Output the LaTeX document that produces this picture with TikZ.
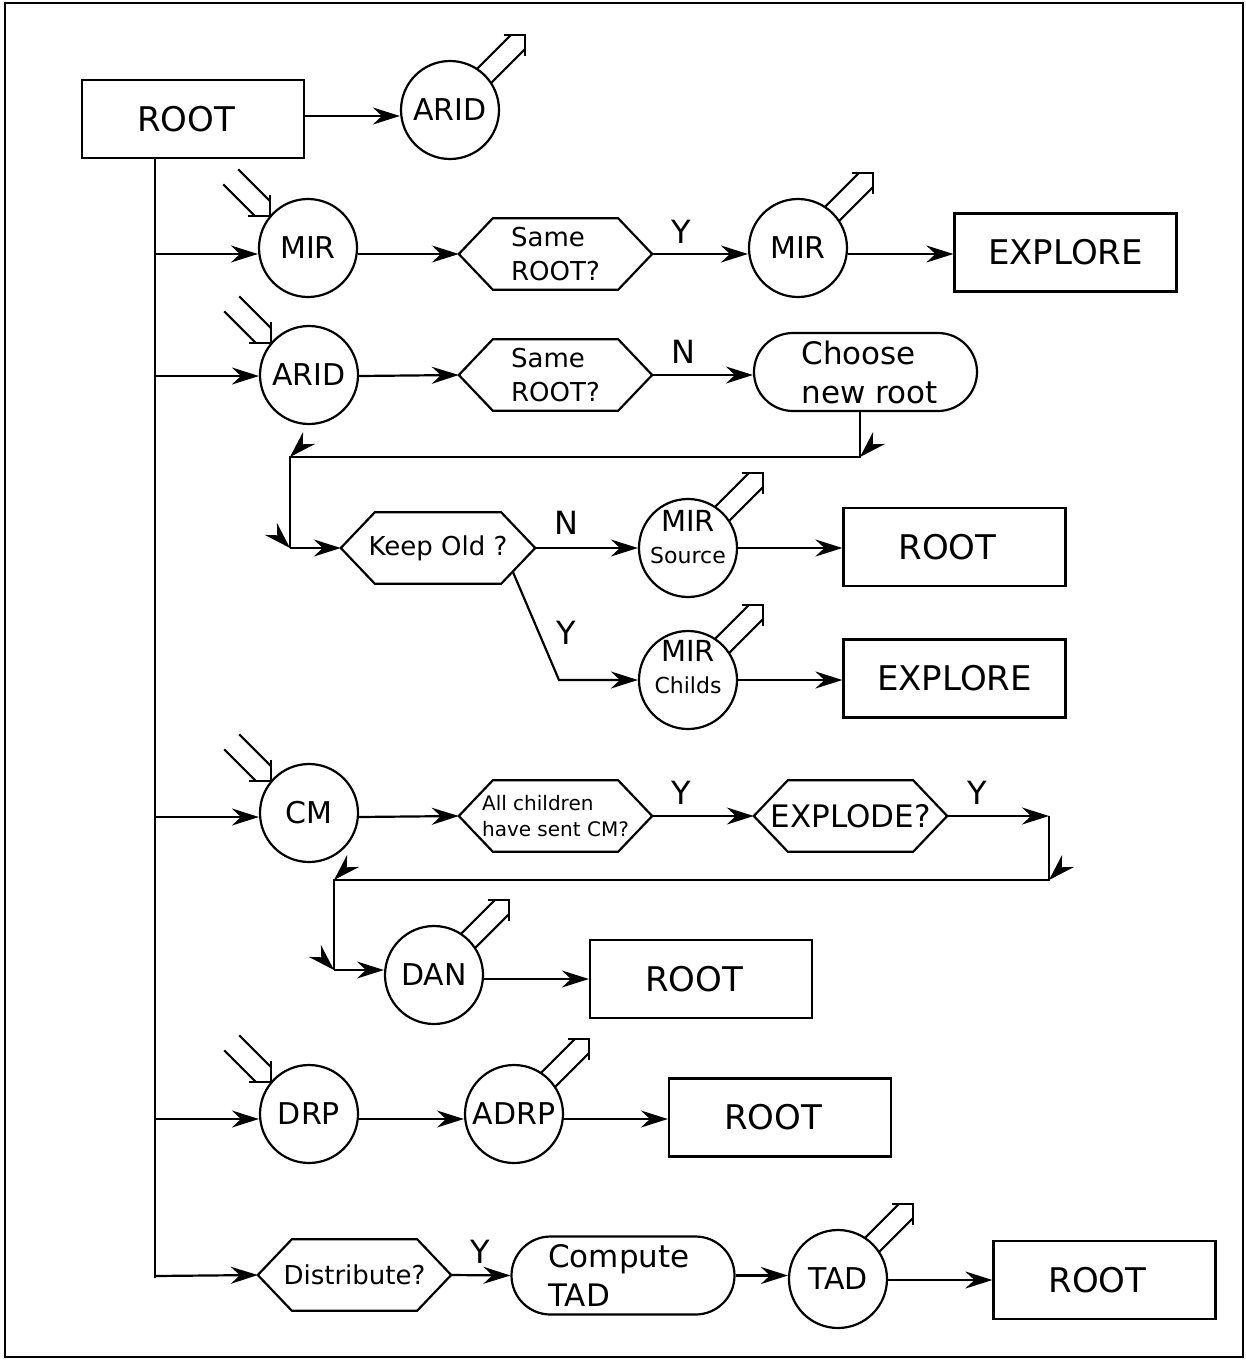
\documentclass[tikz,border=0pt]{standalone}
\usepackage{fontspec}
\setmainfont{DejaVu Sans}
\usetikzlibrary{arrows.meta,shapes.misc,calc}

% hexagonal decision outline around a (plain) node
\newcommand\hexoutline[1]{%
  \draw[ln,line join=miter] (#1.west) -- ([xshift=34pt]#1.north west) -- ([xshift=-34pt]#1.north east)
    -- (#1.east) -- ([xshift=-34pt]#1.south east) -- ([xshift=34pt]#1.south west) -- cycle;}
% hollow outgoing arrow leaving a circle towards the upper right
\newcommand\emitarrow[1]{%
  \begin{scope}[shift={(#1.center)},rotate=45]
    \draw[ln] (48pt,10pt) -- (96pt,10pt);
    \draw[ln] (48pt,-10pt) -- (96pt,-10pt);
    \draw[ln,line join=miter] (91pt,15pt) -- (106pt,0pt) -- (91pt,-15pt);
  \end{scope}}
% hollow incoming arrow entering a circle from the upper left
\newcommand\intoarrow[1]{%
  \begin{scope}[shift={(#1.140)},rotate=-45]
    \draw[ln] (-10.6pt,10.6pt) -- (-55pt,10.6pt);
    \draw[ln] (-10.6pt,-10.6pt) -- (-55pt,-10.6pt);
    \draw[ln,line join=miter] (-15pt,15pt) -- (0pt,0pt) -- (-15pt,-15pt);
  \end{scope}}
% stray arrow head sitting on a bend of a return line
\newcommand\bendhead[2]{%
  \fill[shift={(#1)},rotate=#2] (0pt,0pt) -- (-27pt,8.5pt) -- (-18pt,0pt) -- (-27pt,-8.5pt) -- cycle;}

\begin{document}
\begin{tikzpicture}[x=1pt,y=-1pt,
  ln/.style={line width=2.2pt},
  arr/.style={line width=2.2pt,-{Stealth[length=27pt,width=17pt,inset=9pt]}},
  box/.style={draw,line width=2.2pt,minimum width=222pt,minimum height=78pt,inner sep=0pt,
    font=\fontsize{34}{40}\selectfont},
  circ/.style={draw,circle,line width=2.2pt,minimum size=98pt,inner sep=0pt,
    font=\fontsize{30}{36}\selectfont},
  circtxt/.style={inner sep=0pt,align=center,font=\fontsize{29}{32}\selectfont},
  hex/.style={minimum width=193pt,minimum height=71pt,inner sep=0pt,align=left,
    font=\fontsize{26}{34}\selectfont},
  pill/.style={draw,rounded rectangle,line width=2.2pt,minimum width=223pt,minimum height=78pt,
    inner sep=0pt,align=left,font=\fontsize{31}{39}\selectfont},
  lbl/.style={inner sep=0pt,font=\fontsize{32}{38}\selectfont}]

\useasboundingbox (0,0) rectangle (1246,1360);
\draw[line width=2.5pt] (5,3) rectangle (1243,1357);

% ---- top: ROOT and ARID
\node[box] (root0) at (193,119) {ROOT\kern14pt};
\node[circ] (arid0) at (450,110) {ARID};
\coordinate (r0) at (0,116);
\draw[arr] (root0.east |- r0) -- (arid0.west |- r0);
\emitarrow{arid0}

% ---- trunk and its branch points
\coordinate (r1) at (155,254);
\coordinate (r2) at (155,376);
\coordinate (r3) at (155,817);
\coordinate (r4) at (155,1119);
\coordinate (r5) at (155,1276);
\coordinate (trunkend) at (155,1278);
\draw[ln] (root0.south -| r1) -- (trunkend);

% ---- MIR branch
\node[circ] (mir1) at (308,248) {MIR};
\node[hex] (same1) at (555.5,254) {Same\\ROOT?};
\hexoutline{same1}
\node[circ] (mir2) at (798,248) {MIR};
\node[box] (expl1) at (1065.5,252.5) {EXPLORE};
\node[lbl] (y1) at (681,232) {Y};
\draw[arr] (r1) -- (mir1.west |- r1);
\draw[arr] (mir1.east |- r1) -- (same1.west);
\draw[arr] (same1.east) -- (mir2.west |- r1);
\draw[arr] (mir2.east |- r1) -- (expl1.west |- r1);
\intoarrow{mir1}
\emitarrow{mir2}

% ---- ARID branch
\node[circ] (arid1) at (309,375) {ARID};
\node[hex] (same2) at (555.5,375) {Same\\ROOT?};
\hexoutline{same2}
\node[pill] (choose) at (865.5,372) {\hspace*{8pt}Choose\\\hspace*{8pt}new root};
\node[lbl] (n1) at (683,352) {N};
\draw[arr] (r2) -- (arid1.west |- r2);
\draw[arr] (arid1.east |- r2) -- (same2.west);
\draw[arr] (same2.east) -- (choose.west |- same2.east);
\intoarrow{arid1}

\coordinate (c1) at (860,457);
\coordinate (c2) at (290,457);
\coordinate (c3) at (290,548);
\draw[ln] (choose.south -| c1) -- (c1) -- (c2) -- (c3);
\bendhead{c1}{225}
\bendhead{c2}{225}
\bendhead{c3}{-45}

\node[hex,minimum width=194pt] (keep) at (438,548) {Keep Old ?};
\hexoutline{keep}
\draw[arr] (c3) -- (keep.west);

\node[circ] (src) at (688,548) {};
\node[circtxt] (srctxt) at (688,537)
  {MIR\\{\fontsize{22}{26}\selectfont Source}};
\node[box] (root2) at (954.5,547) {ROOT\kern14pt};
\node[lbl] (n2) at (566,523) {N};
\draw[arr] (keep.east) -- (src.west);
\draw[arr] (src.east) -- (root2.west |- src.east);
\emitarrow{src}

\node[circ] (kids) at (688,680) {};
\node[circtxt] (kidstxt) at (688,667)
  {MIR\\{\fontsize{22}{26}\selectfont Childs}};
\node[box] (expl2) at (954.5,678.5) {EXPLORE};
\node[lbl] (y2) at (566,633) {Y};
\coordinate (d0) at ($(keep.east)!0.66!([xshift=-34pt]keep.south east)$);
\coordinate (d1) at (559,680);
\draw[arr] (d0) -- (d1) -- (kids.west);
\draw[arr] (kids.east) -- (expl2.west |- kids.east);
\emitarrow{kids}

% ---- CM branch
\node[circ] (cm) at (309,813) {CM};
\node[hex,font=\fontsize{20}{26}\selectfont] (allch) at (555.5,816) {All children\\have sent CM?};
\hexoutline{allch}
\node[hex,font=\fontsize{31}{36}\selectfont] (explode) at (850.5,816) {EXPLODE?};
\hexoutline{explode}
\node[lbl] (y3) at (681,793) {Y};
\node[lbl] (y4) at (977,793) {Y};
\coordinate (c4) at (1049,816);
\coordinate (c5) at (1049,880);
\coordinate (c6) at (334,880);
\coordinate (c7) at (334,970);
\draw[arr] (r3) -- (cm.west |- r3);
\draw[arr] (cm.east |- r3) -- (allch.west);
\draw[arr] (allch.east) -- (explode.west);
\draw[arr] (explode.east) -- (c4);
\draw[ln] (c4) -- (c5) -- (c6) -- (c7);
\bendhead{c5}{225}
\bendhead{c6}{225}
\bendhead{c7}{-45}
\intoarrow{cm}

\node[circ] (dan) at (434,975) {DAN};
\node[box] (root3) at (701,979) {ROOT\kern14pt};
\draw[arr] (c7) -- (dan.west |- c7);
\draw[arr] (dan.east |- root3.west) -- (root3.west);
\emitarrow{dan}

% ---- DRP branch
\node[circ] (drp) at (309,1114) {DRP};
\node[circ] (adrp) at (514,1114) {ADRP};
\node[box] (root4) at (780,1117.5) {ROOT\kern14pt};
\draw[arr] (r4) -- (drp.west |- r4);
\draw[arr] (drp.east |- r4) -- (adrp.west |- r4);
\draw[arr] (adrp.east |- r4) -- (root4.west |- r4);
\intoarrow{drp}
\emitarrow{adrp}

% ---- distribution branch
\node[hex] (dist) at (354.5,1275) {Distribute?};
\hexoutline{dist}
\node[pill] (compute) at (623,1275.5) {Compute\hspace*{8pt}\\TAD};
\node[circ] (tad) at (838,1279) {TAD};
\node[box] (root5) at (1104.5,1280) {ROOT\kern14pt};
\node[lbl] (y5) at (480,1252) {Y};
\draw[arr] (r5) -- (dist.west);
\draw[arr] (dist.east) -- (compute.west);
\draw[arr] (compute.east) -- (tad.west |- compute.east);
\draw[arr] (tad.east |- root5.west) -- (root5.west);
\emitarrow{tad}

\end{tikzpicture}
\end{document}
